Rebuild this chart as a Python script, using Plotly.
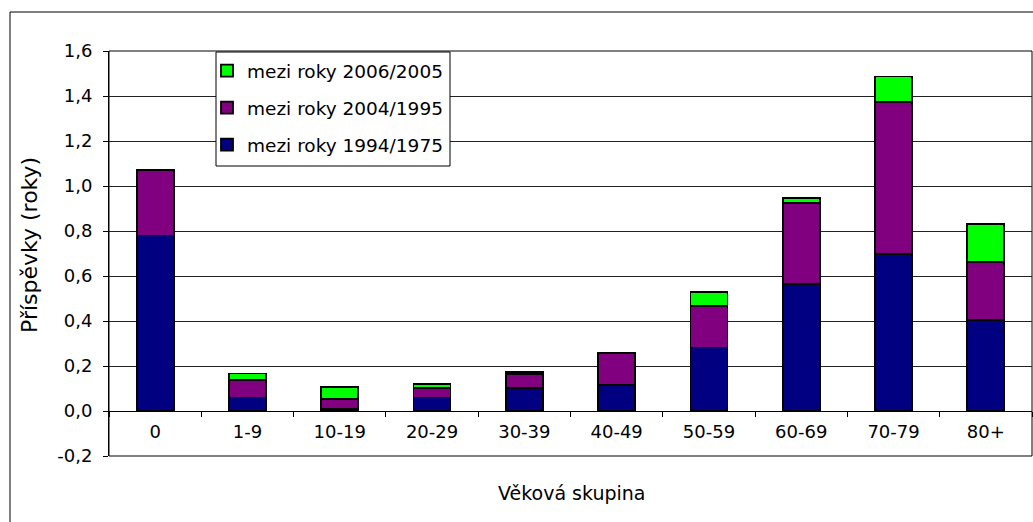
import plotly.graph_objects as go

categories = ["0", "1-9", "10-19", "20-29", "30-39", "40-49", "50-59", "60-69", "70-79", "80+"]
s1994_1975 = [0.78, 0.06, 0.008, 0.06, 0.103, 0.114, 0.282, 0.565, 0.699, 0.403]
s2004_1995 = [0.29, 0.078, 0.044, 0.042, 0.062, 0.143, 0.186, 0.361, 0.673, 0.261]
s2006_2005 = [0.0, 0.029, 0.054, 0.019, 0.008, 0.0, 0.062, 0.021, 0.115, 0.168]
names = ["mezi roky 1994/1975", "mezi roky 2004/1995", "mezi roky 2006/2005"]
colors = ["#000080", "#800080", "#00FF00"]
y_ticks = [-0.2, 0.0, 0.2, 0.4, 0.6, 0.8, 1.0, 1.2, 1.4, 1.6]
y_tick_labels = ["-0,2", "0,0", "0,2", "0,4", "0,6", "0,8", "1,0", "1,2", "1,4", "1,6"]

FONT = "DejaVu Sans"
W, H = 1033, 522
L, R, T, B = 109, 1, 51, 66
pw, ph = W - L - R, H - T - B

def px(x):
    return (x - L) / pw

def py(y):
    return (H - B - y) / ph

fig = go.Figure()
series = [s1994_1975, s2004_1995, s2006_2005]
for i, (nm, vals, col) in enumerate(zip(names, series, colors)):
    fig.add_trace(go.Bar(
        x=categories, y=vals, name=nm, legendgroup=f"g{i}", legendrank=10 - i,
        marker=dict(color=col, line=dict(color="black", width=1.8)),
        width=0.4, hoverinfo="skip",
    ))

fig.update_layout(
    width=W, height=H,
    margin=dict(l=L, r=R, t=T, b=B, pad=0),
    paper_bgcolor="white", plot_bgcolor="white",
    barmode="stack",
    font=dict(family=FONT, size=18, color="black"),
    showlegend=True,
    legend=dict(
        x=px(207), y=py(52), xanchor="left", yanchor="top",
        bgcolor="rgba(0,0,0,0)", borderwidth=0,
        traceorder="grouped", tracegroupgap=10,
        font=dict(family=FONT, size=18.5, color="black"),
        itemclick=False, itemdoubleclick=False,
    ),
    xaxis=dict(
        type="category", anchor="free", position=0.2 / 1.8,
        showline=True, linecolor="black", linewidth=1,
        ticks="outside", tickson="boundaries", ticklen=5, tickcolor="black", tickwidth=1,
        showgrid=False, tickfont=dict(family=FONT, size=18),
        ticklabelstandoff=4,
    ),
    yaxis=dict(
        range=[-0.2, 1.6], tickvals=y_ticks, ticktext=y_tick_labels,
        showline=True, linecolor="black", linewidth=1,
        ticks="outside", ticklen=5, tickcolor="black",
        showgrid=True, gridcolor="#222222", gridwidth=1,
        zeroline=True, zerolinecolor="black", zerolinewidth=1,
        tickfont=dict(family=FONT, size=18),
        ticklabelstandoff=7,
    ),
    shapes=[
        # outer chart frame
        dict(type="rect", xref="paper", yref="paper",
             x0=px(10), x1=px(1045), y0=py(540), y1=py(12),
             line=dict(color="black", width=1), fillcolor="rgba(0,0,0,0)", layer="below"),
        # plot area box
        dict(type="rect", xref="paper", yref="paper", x0=0, x1=1, y0=0, y1=1,
             line=dict(color="black", width=1), fillcolor="rgba(0,0,0,0)", layer="below"),
        # legend box
        dict(type="rect", xref="paper", yref="paper",
             x0=px(216), x1=px(450), y0=py(166), y1=py(52),
             line=dict(color="black", width=1), fillcolor="white", layer="above"),
    ],
    annotations=[
        dict(text="Věková skupina", xref="paper", yref="paper",
             x=px(571), y=py(493), xanchor="center", yanchor="middle",
             showarrow=False, font=dict(family=FONT, size=19, color="black")),
        dict(text="Příspěvky (roky)", xref="paper", yref="paper",
             x=px(30), y=py(245), xanchor="center", yanchor="middle", textangle=-90,
             showarrow=False, font=dict(family=FONT, size=22, color="black")),
    ],
)

fig.write_html(
    "out.html",
    config={"displayModeBar": False},
    post_script="document.body.style.margin='0px';document.body.style.overflow='hidden';",
)
